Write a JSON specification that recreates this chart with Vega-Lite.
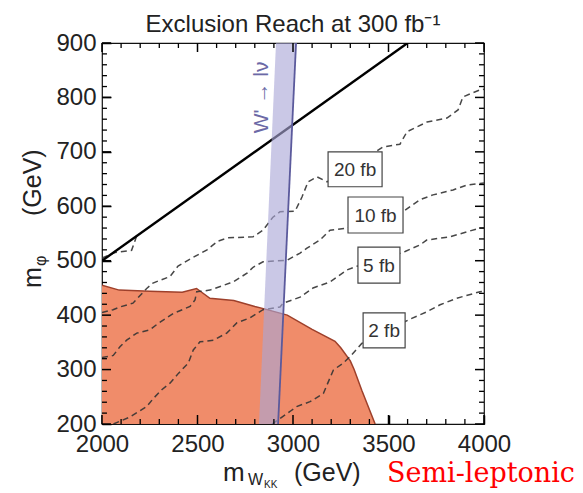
{
  "$schema": "https://vega.github.io/schema/vega-lite/v6.json",
  "width": 382,
  "height": 381,
  "autosize": "none",
  "padding": {"left": 102, "top": 43, "right": 99, "bottom": 69},
  "background": "white",
  "config": {"view": {"stroke": "#111", "strokeWidth": 1.2}},
  "title": {"text": "Exclusion Reach at 300 fb⁻¹", "font": "Liberation Sans", "fontSize": 24, "fontWeight": "normal", "color": "#222", "anchor": "middle", "offset": -6},
  "data": {"values": [{}]},
  "datasets": {
    "region": [
      {"m_w": 2000, "m_phi": 455}, {"m_w": 2090, "m_phi": 446}, {"m_w": 2250, "m_phi": 444}, {"m_w": 2420, "m_phi": 442},
      {"m_w": 2495, "m_phi": 449}, {"m_w": 2565, "m_phi": 431}, {"m_w": 2690, "m_phi": 427}, {"m_w": 2800, "m_phi": 416},
      {"m_w": 2845, "m_phi": 412}, {"m_w": 2970, "m_phi": 400}, {"m_w": 3100, "m_phi": 374}, {"m_w": 3220, "m_phi": 352},
      {"m_w": 3250, "m_phi": 340}, {"m_w": 3300, "m_phi": 316}, {"m_w": 3320, "m_phi": 300}, {"m_w": 3360, "m_phi": 262},
      {"m_w": 3430, "m_phi": 200}
    ],
    "band": [
      {"m_phi": 200, "lo": 2822, "hi": 2922},
      {"m_phi": 900, "lo": 2911, "hi": 3016}
    ],
    "kin": [{"m_w": 2000, "m_phi": 500}, {"m_w": 3600, "m_phi": 900}],
    "labels": [
      {"label": "20 fb", "m_w": 3325, "m_phi": 668},
      {"label": "10 fb", "m_w": 3432, "m_phi": 584},
      {"label": "5 fb", "m_w": 3450, "m_phi": 492},
      {"label": "2 fb", "m_w": 3477, "m_phi": 372}
    ],
    "xticks": [
      {"v": 2000, "k": "major"}, {"v": 2100, "k": "minor"}, {"v": 2200, "k": "minor"}, {"v": 2300, "k": "minor"}, {"v": 2400, "k": "minor"},
      {"v": 2500, "k": "major"}, {"v": 2600, "k": "minor"}, {"v": 2700, "k": "minor"}, {"v": 2800, "k": "minor"}, {"v": 2900, "k": "minor"},
      {"v": 3000, "k": "major"}, {"v": 3100, "k": "minor"}, {"v": 3200, "k": "minor"}, {"v": 3300, "k": "minor"}, {"v": 3400, "k": "minor"},
      {"v": 3500, "k": "major"}, {"v": 3600, "k": "minor"}, {"v": 3700, "k": "minor"}, {"v": 3800, "k": "minor"}, {"v": 3900, "k": "minor"},
      {"v": 4000, "k": "major"}
    ],
    "yticks": [
      {"v": 200, "k": "major"}, {"v": 220, "k": "minor"}, {"v": 240, "k": "minor"}, {"v": 260, "k": "minor"}, {"v": 280, "k": "minor"},
      {"v": 300, "k": "major"}, {"v": 320, "k": "minor"}, {"v": 340, "k": "minor"}, {"v": 360, "k": "minor"}, {"v": 380, "k": "minor"},
      {"v": 400, "k": "major"}, {"v": 420, "k": "minor"}, {"v": 440, "k": "minor"}, {"v": 460, "k": "minor"}, {"v": 480, "k": "minor"},
      {"v": 500, "k": "major"}, {"v": 520, "k": "minor"}, {"v": 540, "k": "minor"}, {"v": 560, "k": "minor"}, {"v": 580, "k": "minor"},
      {"v": 600, "k": "major"}, {"v": 620, "k": "minor"}, {"v": 640, "k": "minor"}, {"v": 660, "k": "minor"}, {"v": 680, "k": "minor"},
      {"v": 700, "k": "major"}, {"v": 720, "k": "minor"}, {"v": 740, "k": "minor"}, {"v": 760, "k": "minor"}, {"v": 780, "k": "minor"},
      {"v": 800, "k": "major"}, {"v": 820, "k": "minor"}, {"v": 840, "k": "minor"}, {"v": 860, "k": "minor"}, {"v": 880, "k": "minor"},
      {"v": 900, "k": "major"}
    ],
    "contours": [
      {"c": "50", "i": 0, "w": 2000, "p": 505}, {"c": "50", "i": 1, "w": 2068, "p": 515}, {"c": "50", "i": 2, "w": 2155, "p": 519},
      {"c": "50", "i": 3, "w": 2165, "p": 529}, {"c": "50", "i": 4, "w": 2182, "p": 546},

      {"c": "20", "i": 0, "w": 2000, "p": 405}, {"c": "20", "i": 1, "w": 2058, "p": 410}, {"c": "20", "i": 2, "w": 2094, "p": 415},
      {"c": "20", "i": 3, "w": 2162, "p": 422}, {"c": "20", "i": 4, "w": 2234, "p": 449}, {"c": "20", "i": 5, "w": 2267, "p": 459},
      {"c": "20", "i": 6, "w": 2356, "p": 471}, {"c": "20", "i": 7, "w": 2398, "p": 490}, {"c": "20", "i": 8, "w": 2471, "p": 505},
      {"c": "20", "i": 9, "w": 2550, "p": 520}, {"c": "20", "i": 10, "w": 2607, "p": 536}, {"c": "20", "i": 11, "w": 2660, "p": 542},
      {"c": "20", "i": 12, "w": 2791, "p": 544}, {"c": "20", "i": 13, "w": 2843, "p": 556}, {"c": "20", "i": 14, "w": 2895, "p": 580},
      {"c": "20", "i": 15, "w": 2932, "p": 590}, {"c": "20", "i": 16, "w": 3011, "p": 591}, {"c": "20", "i": 17, "w": 3047, "p": 617},
      {"c": "20", "i": 18, "w": 3079, "p": 645}, {"c": "20", "i": 19, "w": 3126, "p": 654}, {"c": "20", "i": 20, "w": 3178, "p": 645},
      {"c": "20", "i": 21, "w": 3300, "p": 670}, {"c": "20", "i": 22, "w": 3471, "p": 709}, {"c": "20", "i": 23, "w": 3560, "p": 714},
      {"c": "20", "i": 24, "w": 3597, "p": 737}, {"c": "20", "i": 25, "w": 3702, "p": 755}, {"c": "20", "i": 26, "w": 3806, "p": 762},
      {"c": "20", "i": 27, "w": 3864, "p": 777}, {"c": "20", "i": 28, "w": 3890, "p": 801}, {"c": "20", "i": 29, "w": 3979, "p": 814},
      {"c": "20", "i": 30, "w": 4000, "p": 815},

      {"c": "10", "i": 0, "w": 2000, "p": 322}, {"c": "10", "i": 1, "w": 2059, "p": 326}, {"c": "10", "i": 2, "w": 2094, "p": 342},
      {"c": "10", "i": 3, "w": 2129, "p": 354}, {"c": "10", "i": 4, "w": 2182, "p": 367}, {"c": "10", "i": 5, "w": 2251, "p": 373},
      {"c": "10", "i": 6, "w": 2295, "p": 385}, {"c": "10", "i": 7, "w": 2373, "p": 403}, {"c": "10", "i": 8, "w": 2461, "p": 416},
      {"c": "10", "i": 9, "w": 2487, "p": 428}, {"c": "10", "i": 10, "w": 2496, "p": 443}, {"c": "10", "i": 11, "w": 2565, "p": 446},
      {"c": "10", "i": 12, "w": 2670, "p": 459}, {"c": "10", "i": 13, "w": 2686, "p": 461}, {"c": "10", "i": 14, "w": 2759, "p": 477},
      {"c": "10", "i": 15, "w": 2791, "p": 488}, {"c": "10", "i": 16, "w": 2843, "p": 498}, {"c": "10", "i": 17, "w": 2969, "p": 501},
      {"c": "10", "i": 18, "w": 3037, "p": 514}, {"c": "10", "i": 19, "w": 3073, "p": 523}, {"c": "10", "i": 20, "w": 3141, "p": 538},
      {"c": "10", "i": 21, "w": 3194, "p": 556}, {"c": "10", "i": 22, "w": 3283, "p": 560}, {"c": "10", "i": 23, "w": 3430, "p": 580},
      {"c": "10", "i": 24, "w": 3587, "p": 593}, {"c": "10", "i": 25, "w": 3665, "p": 612}, {"c": "10", "i": 26, "w": 3733, "p": 621},
      {"c": "10", "i": 27, "w": 3838, "p": 630}, {"c": "10", "i": 28, "w": 3910, "p": 639}, {"c": "10", "i": 29, "w": 3979, "p": 642},
      {"c": "10", "i": 30, "w": 4000, "p": 643},

      {"c": "5", "i": 0, "w": 2060, "p": 200}, {"c": "5", "i": 1, "w": 2147, "p": 213}, {"c": "5", "i": 2, "w": 2234, "p": 232},
      {"c": "5", "i": 3, "w": 2269, "p": 247}, {"c": "5", "i": 4, "w": 2313, "p": 263}, {"c": "5", "i": 5, "w": 2356, "p": 275},
      {"c": "5", "i": 6, "w": 2400, "p": 293}, {"c": "5", "i": 7, "w": 2452, "p": 312}, {"c": "5", "i": 8, "w": 2478, "p": 336},
      {"c": "5", "i": 9, "w": 2513, "p": 351}, {"c": "5", "i": 10, "w": 2583, "p": 354}, {"c": "5", "i": 11, "w": 2653, "p": 367},
      {"c": "5", "i": 12, "w": 2707, "p": 386}, {"c": "5", "i": 13, "w": 2775, "p": 395}, {"c": "5", "i": 14, "w": 2843, "p": 410},
      {"c": "5", "i": 15, "w": 2932, "p": 415}, {"c": "5", "i": 16, "w": 2948, "p": 422}, {"c": "5", "i": 17, "w": 3037, "p": 433},
      {"c": "5", "i": 18, "w": 3105, "p": 450}, {"c": "5", "i": 19, "w": 3194, "p": 461}, {"c": "5", "i": 20, "w": 3283, "p": 483},
      {"c": "5", "i": 21, "w": 3335, "p": 490}, {"c": "5", "i": 22, "w": 3450, "p": 500}, {"c": "5", "i": 23, "w": 3587, "p": 517},
      {"c": "5", "i": 24, "w": 3665, "p": 529}, {"c": "5", "i": 25, "w": 3700, "p": 538}, {"c": "5", "i": 26, "w": 3822, "p": 544},
      {"c": "5", "i": 27, "w": 3910, "p": 553}, {"c": "5", "i": 28, "w": 3979, "p": 560}, {"c": "5", "i": 29, "w": 4000, "p": 560},

      {"c": "2", "i": 0, "w": 2890, "p": 200}, {"c": "2", "i": 1, "w": 2984, "p": 223}, {"c": "2", "i": 2, "w": 3019, "p": 232},
      {"c": "2", "i": 3, "w": 3089, "p": 241}, {"c": "2", "i": 4, "w": 3159, "p": 256}, {"c": "2", "i": 5, "w": 3211, "p": 299},
      {"c": "2", "i": 6, "w": 3263, "p": 312}, {"c": "2", "i": 7, "w": 3299, "p": 324}, {"c": "2", "i": 8, "w": 3360, "p": 348},
      {"c": "2", "i": 9, "w": 3480, "p": 370}, {"c": "2", "i": 10, "w": 3622, "p": 394}, {"c": "2", "i": 11, "w": 3700, "p": 406},
      {"c": "2", "i": 12, "w": 3770, "p": 419}, {"c": "2", "i": 13, "w": 3857, "p": 431}, {"c": "2", "i": 14, "w": 3979, "p": 443},
      {"c": "2", "i": 15, "w": 4000, "p": 444}
    ]
  },
  "resolve": {"axis": {"x": "independent", "y": "independent"}},
  "layer": [
    {
      "data": {"name": "region"},
      "mark": {"type": "area", "color": "#f08c6a", "opacity": 1, "clip": true, "line": {"color": "#9e402b", "strokeWidth": 1.5}},
      "encoding": {
        "x": {"field": "m_w", "type": "quantitative", "scale": {"domain": [2000, 4000], "nice": false, "zero": false},
          "axis": {"orient": "bottom", "title": null, "domain": false, "grid": false, "ticks": true, "offset": -9,
            "values": [2000, 2500, 3000, 3500, 4000], "format": "d",
            "tickSize": 9, "tickColor": "#000", "tickWidth": 1.5, "labelFont": "Liberation Sans", "labelFontSize": 24, "labelColor": "#222",
            "labelPadding": 8, "labelOverlap": false, "labelFlush": false, "labelBound": false}},
        "y": {"field": "m_phi", "type": "quantitative", "scale": {"domain": [200, 900], "nice": false, "zero": false},
          "axis": {"orient": "left", "title": null, "domain": false, "grid": false, "ticks": true, "offset": -9,
            "values": [200, 300, 400, 500, 600, 700, 800, 900], "format": "d",
            "tickSize": 9, "tickColor": "#000", "tickWidth": 1.5, "labelFont": "Liberation Sans", "labelFontSize": 24, "labelColor": "#222",
            "labelPadding": 6, "labelOverlap": false, "labelFlush": false, "labelBound": false}},
        "y2": {"datum": 200}
      }
    },
    {
      "data": {"name": "contours"},
      "mark": {"type": "line", "color": "#333", "strokeWidth": 1.5, "strokeDash": [6, 4], "opacity": 0.9, "clip": true},
      "encoding": {
        "x": {"field": "w", "type": "quantitative", "scale": {"domain": [2000, 4000], "nice": false, "zero": false}, "axis": null},
        "y": {"field": "p", "type": "quantitative", "scale": {"domain": [200, 900], "nice": false, "zero": false}, "axis": null},
        "detail": {"field": "c", "type": "nominal"},
        "order": {"field": "i", "type": "quantitative"}
      }
    },
    {
      "data": {"name": "kin"},
      "mark": {"type": "line", "color": "#000", "strokeWidth": 2.4, "clip": true},
      "encoding": {
        "x": {"field": "m_w", "type": "quantitative", "scale": {"domain": [2000, 4000], "nice": false, "zero": false}, "axis": null},
        "y": {"field": "m_phi", "type": "quantitative", "scale": {"domain": [200, 900], "nice": false, "zero": false}, "axis": null}
      }
    },
    {
      "data": {"name": "band"},
      "mark": {"type": "area", "orient": "horizontal", "color": "#a9a6d6", "opacity": 0.62, "clip": true},
      "encoding": {
        "y": {"field": "m_phi", "type": "quantitative", "scale": {"domain": [200, 900], "nice": false, "zero": false}, "axis": null},
        "x": {"field": "lo", "type": "quantitative", "scale": {"domain": [2000, 4000], "nice": false, "zero": false}, "axis": null},
        "x2": {"field": "hi"}
      }
    },
    {
      "data": {"name": "band"},
      "mark": {"type": "line", "color": "#5b5a9c", "strokeWidth": 1.8, "clip": true},
      "encoding": {
        "x": {"field": "hi", "type": "quantitative", "scale": {"domain": [2000, 4000], "nice": false, "zero": false}, "axis": null},
        "y": {"field": "m_phi", "type": "quantitative", "scale": {"domain": [200, 900], "nice": false, "zero": false}, "axis": null},
        "order": {"field": "m_phi", "type": "quantitative"}
      }
    },
    {
      "data": {"name": "xticks"},
      "transform": [{"filter": "datum.k === 'major'"}],
      "mark": {"type": "rule", "color": "#000", "strokeWidth": 1.5},
      "encoding": {
        "x": {"field": "v", "type": "quantitative", "scale": {"domain": [2000, 4000], "nice": false, "zero": false}, "axis": null},
        "y": {"datum": 200, "type": "quantitative", "scale": {"domain": [200, 900], "nice": false, "zero": false}, "axis": null},
        "y2": {"datum": 216.5}
      }
    },
    {
      "data": {"name": "xticks"},
      "transform": [{"filter": "datum.k === 'minor'"}],
      "mark": {"type": "rule", "color": "#000", "strokeWidth": 1.3},
      "encoding": {
        "x": {"field": "v", "type": "quantitative", "scale": {"domain": [2000, 4000], "nice": false, "zero": false}, "axis": null},
        "y": {"datum": 200, "type": "quantitative", "scale": {"domain": [200, 900], "nice": false, "zero": false}, "axis": null},
        "y2": {"datum": 209.2}
      }
    },
    {
      "data": {"name": "xticks"},
      "transform": [{"filter": "datum.k === 'major'"}],
      "mark": {"type": "rule", "color": "#000", "strokeWidth": 1.5},
      "encoding": {
        "x": {"field": "v", "type": "quantitative", "scale": {"domain": [2000, 4000], "nice": false, "zero": false}, "axis": null},
        "y": {"datum": 900, "type": "quantitative", "scale": {"domain": [200, 900], "nice": false, "zero": false}, "axis": null},
        "y2": {"datum": 883.5}
      }
    },
    {
      "data": {"name": "xticks"},
      "transform": [{"filter": "datum.k === 'minor'"}],
      "mark": {"type": "rule", "color": "#000", "strokeWidth": 1.3},
      "encoding": {
        "x": {"field": "v", "type": "quantitative", "scale": {"domain": [2000, 4000], "nice": false, "zero": false}, "axis": null},
        "y": {"datum": 900, "type": "quantitative", "scale": {"domain": [200, 900], "nice": false, "zero": false}, "axis": null},
        "y2": {"datum": 890.8}
      }
    },
    {
      "data": {"name": "yticks"},
      "transform": [{"filter": "datum.k === 'major'"}],
      "mark": {"type": "rule", "color": "#000", "strokeWidth": 1.5},
      "encoding": {
        "y": {"field": "v", "type": "quantitative", "scale": {"domain": [200, 900], "nice": false, "zero": false}, "axis": null},
        "x": {"datum": 2000, "type": "quantitative", "scale": {"domain": [2000, 4000], "nice": false, "zero": false}, "axis": null},
        "x2": {"datum": 2047}
      }
    },
    {
      "data": {"name": "yticks"},
      "transform": [{"filter": "datum.k === 'minor'"}],
      "mark": {"type": "rule", "color": "#000", "strokeWidth": 1.3},
      "encoding": {
        "y": {"field": "v", "type": "quantitative", "scale": {"domain": [200, 900], "nice": false, "zero": false}, "axis": null},
        "x": {"datum": 2000, "type": "quantitative", "scale": {"domain": [2000, 4000], "nice": false, "zero": false}, "axis": null},
        "x2": {"datum": 2026}
      }
    },
    {
      "data": {"name": "yticks"},
      "transform": [{"filter": "datum.k === 'major'"}],
      "mark": {"type": "rule", "color": "#000", "strokeWidth": 1.5},
      "encoding": {
        "y": {"field": "v", "type": "quantitative", "scale": {"domain": [200, 900], "nice": false, "zero": false}, "axis": null},
        "x": {"datum": 4000, "type": "quantitative", "scale": {"domain": [2000, 4000], "nice": false, "zero": false}, "axis": null},
        "x2": {"datum": 3953}
      }
    },
    {
      "data": {"name": "yticks"},
      "transform": [{"filter": "datum.k === 'minor'"}],
      "mark": {"type": "rule", "color": "#000", "strokeWidth": 1.3},
      "encoding": {
        "y": {"field": "v", "type": "quantitative", "scale": {"domain": [200, 900], "nice": false, "zero": false}, "axis": null},
        "x": {"datum": 4000, "type": "quantitative", "scale": {"domain": [2000, 4000], "nice": false, "zero": false}, "axis": null},
        "x2": {"datum": 3974}
      }
    },
    {
      "data": {"name": "labels"},
      "mark": {"type": "point", "filled": true, "fill": "white", "stroke": "#444", "strokeWidth": 1.2, "opacity": 1, "size": 3600},
      "encoding": {
        "x": {"field": "m_w", "type": "quantitative", "scale": {"domain": [2000, 4000], "nice": false, "zero": false}, "axis": null},
        "y": {"field": "m_phi", "type": "quantitative", "scale": {"domain": [200, 900], "nice": false, "zero": false}, "axis": null},
        "shape": {"field": "label", "type": "nominal", "legend": null,
          "scale": {"domain": ["20 fb", "10 fb", "5 fb", "2 fb"],
            "range": ["M-0.9,-0.583L0.9,-0.583L0.9,0.583L-0.9,0.583Z", "M-0.917,-0.6L0.917,-0.6L0.917,0.6L-0.917,0.6Z", "M-0.7,-0.6L0.7,-0.6L0.7,0.6L-0.7,0.6Z", "M-0.7,-0.583L0.7,-0.583L0.7,0.583L-0.7,0.583Z"]}}
      }
    },
    {
      "data": {"name": "labels"},
      "mark": {"type": "text", "font": "Liberation Sans", "fontSize": 19, "color": "#333", "align": "center", "baseline": "middle", "dy": 1},
      "encoding": {
        "x": {"field": "m_w", "type": "quantitative", "scale": {"domain": [2000, 4000], "nice": false, "zero": false}, "axis": null},
        "y": {"field": "m_phi", "type": "quantitative", "scale": {"domain": [200, 900], "nice": false, "zero": false}, "axis": null},
        "text": {"field": "label"}
      }
    },
    {
      "mark": {"type": "text", "text": "W' → lν", "font": "Liberation Sans", "fontSize": 21, "color": "#6b69a6", "angle": 270, "align": "center", "baseline": "middle"},
      "encoding": {
        "x": {"datum": 2840, "type": "quantitative", "scale": {"domain": [2000, 4000], "nice": false, "zero": false}, "axis": null},
        "y": {"datum": 800, "type": "quantitative", "scale": {"domain": [200, 900], "nice": false, "zero": false}, "axis": null}
      }
    },
    {
      "mark": {"type": "text", "text": "m", "font": "Liberation Sans", "fontSize": 26, "color": "#222", "align": "left", "baseline": "alphabetic", "dx": -70, "dy": 57},
      "encoding": {
        "x": {"datum": 3000, "type": "quantitative", "scale": {"domain": [2000, 4000], "nice": false, "zero": false}, "axis": null},
        "y": {"datum": 200, "type": "quantitative", "scale": {"domain": [200, 900], "nice": false, "zero": false}, "axis": null}
      }
    },
    {
      "mark": {"type": "text", "text": "W", "font": "Liberation Sans", "fontSize": 16, "color": "#222", "align": "left", "baseline": "alphabetic", "dx": -45, "dy": 61},
      "encoding": {
        "x": {"datum": 3000, "type": "quantitative", "scale": {"domain": [2000, 4000], "nice": false, "zero": false}, "axis": null},
        "y": {"datum": 200, "type": "quantitative", "scale": {"domain": [200, 900], "nice": false, "zero": false}, "axis": null}
      }
    },
    {
      "mark": {"type": "text", "text": "KK", "font": "Liberation Sans", "fontSize": 10, "color": "#222", "align": "left", "baseline": "alphabetic", "dx": -29, "dy": 64},
      "encoding": {
        "x": {"datum": 3000, "type": "quantitative", "scale": {"domain": [2000, 4000], "nice": false, "zero": false}, "axis": null},
        "y": {"datum": 200, "type": "quantitative", "scale": {"domain": [200, 900], "nice": false, "zero": false}, "axis": null}
      }
    },
    {
      "mark": {"type": "text", "text": "(GeV)", "font": "Liberation Sans", "fontSize": 25, "color": "#222", "align": "left", "baseline": "alphabetic", "dx": 1, "dy": 57},
      "encoding": {
        "x": {"datum": 3000, "type": "quantitative", "scale": {"domain": [2000, 4000], "nice": false, "zero": false}, "axis": null},
        "y": {"datum": 200, "type": "quantitative", "scale": {"domain": [200, 900], "nice": false, "zero": false}, "axis": null}
      }
    },
    {
      "mark": {"type": "text", "text": "Semi-leptonic", "font": "DejaVu Serif", "fontSize": 27, "color": "#ff0000", "align": "left", "baseline": "alphabetic", "dx": 94, "dy": 58},
      "encoding": {
        "x": {"datum": 3000, "type": "quantitative", "scale": {"domain": [2000, 4000], "nice": false, "zero": false}, "axis": null},
        "y": {"datum": 200, "type": "quantitative", "scale": {"domain": [200, 900], "nice": false, "zero": false}, "axis": null}
      }
    },
    {
      "mark": {"type": "text", "text": "m", "font": "Liberation Sans", "fontSize": 25, "color": "#222", "angle": 270, "align": "left", "baseline": "alphabetic", "dx": 136, "dy": -61},
      "encoding": {
        "x": {"datum": 2000, "type": "quantitative", "scale": {"domain": [2000, 4000], "nice": false, "zero": false}, "axis": null},
        "y": {"datum": 200, "type": "quantitative", "scale": {"domain": [200, 900], "nice": false, "zero": false}, "axis": null}
      }
    },
    {
      "mark": {"type": "text", "text": "φ", "font": "Liberation Sans", "fontSize": 16, "color": "#222", "angle": 270, "align": "left", "baseline": "alphabetic", "dx": 158, "dy": -56},
      "encoding": {
        "x": {"datum": 2000, "type": "quantitative", "scale": {"domain": [2000, 4000], "nice": false, "zero": false}, "axis": null},
        "y": {"datum": 200, "type": "quantitative", "scale": {"domain": [200, 900], "nice": false, "zero": false}, "axis": null}
      }
    },
    {
      "mark": {"type": "text", "text": "(GeV)", "font": "Liberation Sans", "fontSize": 25, "color": "#222", "angle": 270, "align": "left", "baseline": "alphabetic", "dx": 208, "dy": -61},
      "encoding": {
        "x": {"datum": 2000, "type": "quantitative", "scale": {"domain": [2000, 4000], "nice": false, "zero": false}, "axis": null},
        "y": {"datum": 200, "type": "quantitative", "scale": {"domain": [200, 900], "nice": false, "zero": false}, "axis": null}
      }
    }
  ]
}
